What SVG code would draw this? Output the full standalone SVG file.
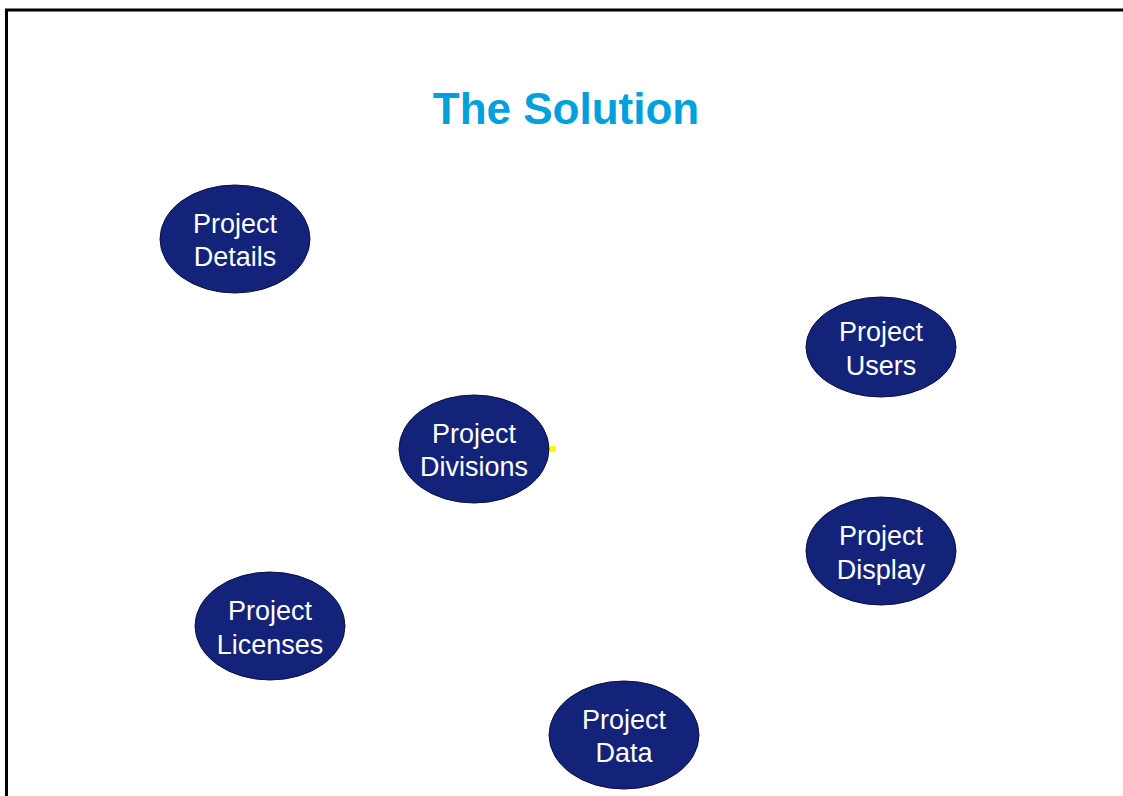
<svg xmlns="http://www.w3.org/2000/svg" width="1123" height="796" viewBox="0 0 1123 796">
<style>
.node ellipse{fill:#13237A;stroke:#0a1040;stroke-width:1}
.node text{fill:#fff;font-family:"Liberation Sans",Arial,sans-serif;font-size:27px;text-anchor:middle}
.title{fill:#00A0DC;font-family:"Liberation Sans",Arial,sans-serif;font-size:44px;font-weight:bold;text-anchor:middle}
</style>
<rect x="0" y="0" width="1123" height="796" fill="#fff"/>
<path d="M6.5,796 V10 H1123" fill="none" stroke="#000" stroke-width="3"/>
<text class="title" x="566" y="124">The Solution</text>
<g id="connectors"></g>
<g id="details" class="node"><ellipse cx="235" cy="239" rx="75" ry="54"/><text x="235" y="233">Project</text><text x="235" y="266">Details</text></g>
<g id="users" class="node"><ellipse cx="881" cy="347" rx="75" ry="50"/><text x="881" y="341">Project</text><text x="881" y="375">Users</text></g>
<g id="divisions" class="node"><ellipse cx="474" cy="449" rx="75" ry="54"/><text x="474" y="443">Project</text><text x="474" y="476">Divisions</text></g>
<rect x="550" y="446" width="6" height="6" fill="#FFFF00"/>
<g id="display" class="node"><ellipse cx="881" cy="551" rx="75" ry="54"/><text x="881" y="545">Project</text><text x="881" y="579">Display</text></g>
<g id="licenses" class="node"><ellipse cx="270" cy="626" rx="75" ry="54"/><text x="270" y="620">Project</text><text x="270" y="654">Licenses</text></g>
<g id="data" class="node"><ellipse cx="624" cy="735" rx="75" ry="54"/><text x="624" y="729">Project</text><text x="624" y="762">Data</text></g>
</svg>
